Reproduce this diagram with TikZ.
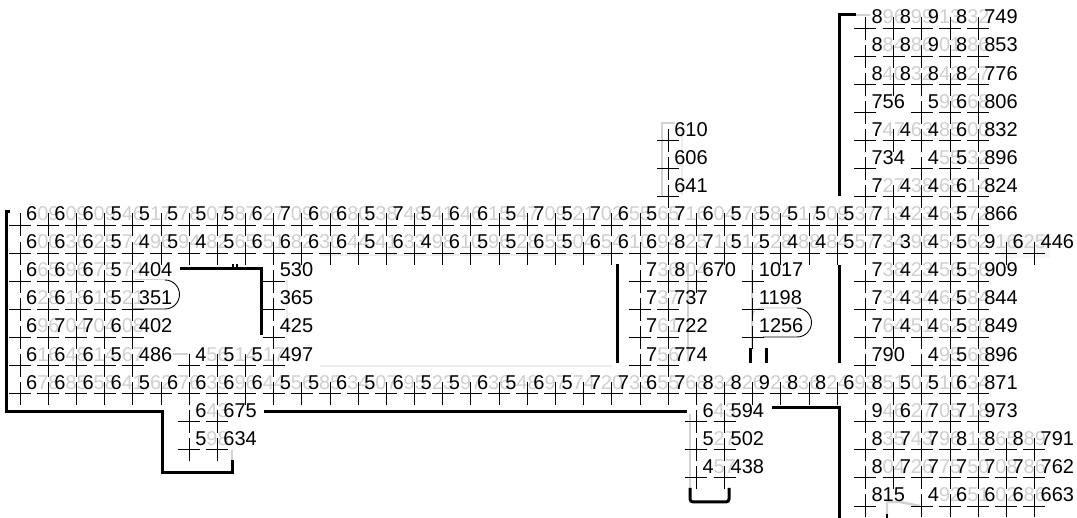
\documentclass[tikz,border=0pt]{standalone}
\usepackage{fontspec}
\setmainfont{Liberation Sans}
\definecolor{tailgray}{HTML}{CFCFCF}
\definecolor{edgegray}{HTML}{D2D2D2}
\definecolor{bandgray}{HTML}{EDEDED}
% first digit black, the rest pale; a leading b keeps all digits black
\def\cellsplit#1#2#3\relax{\if#1b\textcolor{black}{#2#3}\else\textcolor{black}{#1}\textcolor{tailgray}{#2#3}\fi}
\newcommand{\cellnum}[1]{\expandafter\cellsplit#1\relax}

\begin{document}
\begin{tikzpicture}[x=1pt, y=-1pt,
    plusmark/.style={draw=black, line width=0.8pt},
    number/.style={anchor=base west, inner sep=0pt, font=\fontsize{20}{20}\selectfont},
    wall/.style={draw=black, line width=3pt, line cap=butt},
    thinwall/.style={draw=black, line width=0.9pt},
    pale/.style={draw=edgegray, line width=2.4pt},
    band/.style={draw=bandgray, line width=2.5pt}]

    \useasboundingbox (0,0) rectangle (1077,518);

    % Pale lines
    \fill [bandgray!50] (1000,235) rectangle (1050,258);
    \draw [band] (320,255) -- (612,255);
    \draw [band] (320,366) -- (612,366);
    \draw [pale] (675,123) -- (662,123) -- (662,197);
    \draw [band] (682,125) -- (682,195);
    \draw [pale] (688,263) -- (688,362);
    \draw [pale] (752,263) -- (752,347);
    \draw [pale] (690,414) -- (690,488);
    \draw [pale] (855,15) -- (870,15);
    \draw [pale] (173,354) -- (188,354);
    \draw [band] (287,280) -- (287,335);
    \draw [pale] (232,450) -- (232,461);
    \draw [pale] (887,517) -- (887,502) -- (900,502) -- (920,506);
    \draw [pale, line width=1pt] (135,280) -- (165,280);
    \draw [pale, line width=1pt] (797,308) -- (760,308) arc (-90:-180:7);

    % Numbers and plus marks
    \foreach \rw/\startcol/\vals in {
        0/30/{896,899,913,832,b749},
        1/30/{884,886,901,886,b853},
        2/30/{840,832,842,827,b776},
        3/30/{b756,x,596,668,b806},
        4/23/{b610},
        4/30/{747,463,485,600,b832},
        5/23/{b606},
        5/30/{b734,x,455,532,b896},
        6/23/{b641},
        6/30/{727,438,468,614,b824},
        7/0/{609,609,609,546,517,578,507,587,627,709,666,680,538,748,541,646,615,547,709,521,702,655,565,716,604,578,584,517,509,537,713,423,463,572,b866},
        8/0/{600,636,625,574,496,594,482,565,651,682,630,644,541,633,498,610,596,528,655,504,654,610,694,825,710,512,528,488,484,557,734,396,454,562,916,625,b446},
        9/0/{665,696,675,574,b404},
        9/9/{b530},
        9/22/{736,804,b670},
        9/26/{b1017},
        9/30/{738,423,456,556,b909},
        10/0/{628,618,618,521,b351},
        10/9/{b365},
        10/22/{737,b737},
        10/26/{b1198},
        10/30/{734,434,464,584,b844},
        11/0/{696,704,704,608,b402},
        11/9/{b425},
        11/22/{761,b722},
        11/26/{b1256},
        11/30/{764,451,462,580,b849},
        12/0/{616,648,614,567,b486},
        12/6/{456,514,517,b497},
        12/22/{756,b774},
        12/30/{b790,x,495,568,b896},
        13/0/{678,685,658,641,562,676,639,696,644,556,585,634,507,695,523,597,636,548,697,574,720,733,655,768,834,826,923,836,824,693,851,507,510,634,b871},
        14/6/{643,b675},
        14/24/{643,b594},
        14/30/{946,627,705,718,b973},
        15/6/{598,b634},
        15/24/{527,b502},
        15/30/{835,743,796,813,865,889,b791},
        16/24/{457,b438},
        16/30/{804,726,775,750,708,786,b762},
        17/30/{b815,x,492,651,602,686,b663}} {
        \foreach \n [count=\col from \startcol] in \vals {
            \if x\n\else
                \coordinate (p-\rw-\col) at ({20+28.18*\col},{28.3+28.1*\rw});
                \node [number] (t-\rw-\col) at ([shift={(6,-4.4)}]p-\rw-\col) {\cellnum{\n}};
                \draw [plusmark] ([xshift=-11pt]p-\rw-\col) -- ([xshift=11pt]p-\rw-\col);
                \draw [plusmark] ([yshift=-11.5pt]p-\rw-\col) -- ([yshift=11.5pt]p-\rw-\col);
            \fi
        }
    }

    % Thick outline
    \draw [wall] (10,212) -- (6,212) -- (6,412) -- (162,412) -- (162,472.5) -- (232,472.5) -- (232,460.5);
    \draw [wall] (264,412) -- (687,412);
    \draw [wall] (180,268.5) -- (261,268.5) -- (261,335);
    \draw [wall, line width=1.3pt] (233,264) -- (233,268);
    \draw [wall, line width=1.3pt] (237,264) -- (237,268);
    \draw [wall] (856,15) -- (839,15) -- (839,196);
    \draw [wall] (839,265) -- (839,363);
    \draw [wall] (772,408) -- (839,408) -- (839,518);
    \draw [wall] (617,264) -- (617,363);
    \draw [wall] (750,348) -- (750,363);
    \draw [wall] (766,348) -- (766,363);
    \draw [wall, rounded corners=3pt] (690,488) -- (690,502) -- (729,502) -- (729,488);
    \draw [wall, line width=2pt] (886.5,514) -- (886.5,518);

    % Rounded ends
    \draw [thinwall] (133,309) -- (165,309) arc (90:-90:14.5);
    \draw [thinwall] (763,337) -- (797,337) arc (90:-90:14.5);

\end{tikzpicture}
\end{document}
